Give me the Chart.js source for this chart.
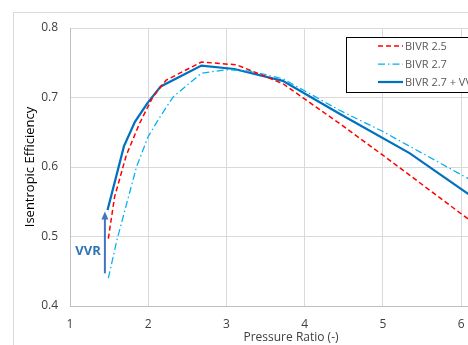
<!DOCTYPE html>
<html>
<head>
<meta charset="utf-8">
<script src="https://cdn.jsdelivr.net/npm/chart.js@4/dist/chart.umd.min.js"></script>
<style>
  html, body { margin: 0; padding: 0; background: #fff; overflow: hidden; width: 468px; height: 345px; }
  #wrap { width: 560px; height: 345px; }
</style>
</head>
<body>
<div id="wrap"><canvas id="effChart" width="560" height="345"></canvas></div>
<script>
// Series (pressure ratio, efficiency)
const seriesLabels = ['BIVR 2.5', 'BIVR 2.7', 'BIVR 2.7 + VVR'];

const bivr25X = [1.49, 1.57, 1.72, 1.89, 2.06, 2.23, 2.68, 3.13, 3.72, 4.44, 5.0, 6.08, 6.7];
const bivr25Y = [0.497, 0.557, 0.617, 0.663, 0.701, 0.725, 0.751, 0.747, 0.720, 0.663, 0.617, 0.526, 0.475];

const bivr27X = [1.49, 1.60, 1.85, 2.0, 2.15, 2.32, 2.68, 3.0, 3.3, 3.72, 4.44, 5.0, 6.08, 6.7];
const bivr27Y = [0.440, 0.495, 0.600, 0.644, 0.672, 0.701, 0.735, 0.740, 0.738, 0.727, 0.682, 0.651, 0.584, 0.545];

const vvrX = [1.48, 1.69, 1.83, 1.99, 2.16, 2.68, 3.10, 3.72, 4.44, 5.34, 6.08, 6.7];
const vvrY = [0.538, 0.630, 0.665, 0.692, 0.716, 0.746, 0.741, 0.724, 0.677, 0.620, 0.562, 0.515];

const xTicks = [1, 2, 3, 4, 5, 6];
const yTicks = [0.4, 0.5, 0.6, 0.7, 0.8];

// VVR arrow (from / to) and its label
const arrowX = [1.446, 1.446];
const arrowY = [0.447, 0.536];
const vvrLabel = { text: 'VVR', x: 1.23, y: 0.479 };

const colors = {
    red: '#ff0000',
    cyan: '#00b0f0',
    blue: '#0070c0',
    arrow: '#4472c4',
    grid: '#d9d9d9',
    text: '#404040'
};

function toPoints(xs, ys) {
    return xs.map((x, i) => ({ x: x, y: ys[i] }));
}

// outer frame and the legend box, like the spreadsheet chart
const framePlugin = {
    id: 'frame',
    beforeDraw(chart) {
        const ctx = chart.ctx;
        ctx.save();
        ctx.fillStyle = '#fff';
        ctx.fillRect(0, 0, chart.width, chart.height);
        ctx.strokeStyle = colors.grid;
        ctx.lineWidth = 1;
        ctx.strokeRect(13.5, 12.5, chart.width, chart.height);
        ctx.restore();
    },
    afterDraw(chart) {
        const ctx = chart.ctx;
        const xs = chart.scales.x, ys = chart.scales.y;
        ctx.save();

        // arrow
        const ax = xs.getPixelForValue(arrowX[0]);
        const y0 = ys.getPixelForValue(arrowY[0]);
        const y1 = ys.getPixelForValue(arrowY[1]);
        ctx.strokeStyle = colors.arrow;
        ctx.fillStyle = colors.arrow;
        ctx.lineWidth = 2;
        ctx.beginPath();
        ctx.moveTo(ax, y0);
        ctx.lineTo(ax, y1 + 6);
        ctx.stroke();
        ctx.beginPath();
        ctx.moveTo(ax, y1);
        ctx.lineTo(ax - 3.5, y1 + 8);
        ctx.lineTo(ax + 3.5, y1 + 8);
        ctx.closePath();
        ctx.fill();

        ctx.font = 'bold 13px "Open Sans", sans-serif';
        ctx.fillStyle = '#2e75b6';
        ctx.textAlign = 'center';
        ctx.textBaseline = 'middle';
        ctx.fillText(vvrLabel.text, xs.getPixelForValue(vvrLabel.x), ys.getPixelForValue(vvrLabel.y));

        // legend
        const lx = 346, ly = 37;
        ctx.fillStyle = '#fff';
        ctx.fillRect(lx, ly, 200, 55);
        ctx.strokeStyle = '#000';
        ctx.lineWidth = 1;
        ctx.strokeRect(lx + 0.5, ly + 0.5, 200, 55);
        ctx.font = '11px "Open Sans", sans-serif';
        ctx.textAlign = 'left';
        chart.data.datasets.forEach((ds, i) => {
            const rowY = 46 + i * 18;
            ctx.strokeStyle = ds.borderColor;
            ctx.lineWidth = ds.borderWidth;
            ctx.setLineDash(ds.borderDash || []);
            ctx.beginPath();
            ctx.moveTo(378, rowY);
            ctx.lineTo(403, rowY);
            ctx.stroke();
            ctx.setLineDash([]);
            ctx.fillStyle = '#595959';
            ctx.fillText(ds.label, 405, rowY + 0.5);
        });
        ctx.restore();
    }
};

function initEfficiencyChart() {
    new Chart(document.getElementById('effChart'), {
        type: 'scatter',
        data: {
            datasets: [
                {
                    label: seriesLabels[0],
                    data: toPoints(bivr25X, bivr25Y),
                    borderColor: colors.red,
                    borderWidth: 1.5,
                    borderDash: [5, 3],
                    showLine: true,
                    pointRadius: 0
                },
                {
                    label: seriesLabels[1],
                    data: toPoints(bivr27X, bivr27Y),
                    borderColor: colors.cyan,
                    borderWidth: 1.25,
                    borderDash: [7, 3, 1.5, 3],
                    showLine: true,
                    pointRadius: 0
                },
                {
                    label: seriesLabels[2],
                    data: toPoints(vvrX, vvrY),
                    borderColor: colors.blue,
                    borderWidth: 2.25,
                    showLine: true,
                    pointRadius: 0
                }
            ]
        },
        options: {
            responsive: false,
            animation: false,
            layout: { padding: { left: 22, top: 28, right: 48, bottom: 0 } },
            plugins: {
                legend: { display: false },
                tooltip: { enabled: false }
            },
            scales: {
                x: {
                    type: 'linear',
                    min: 1,
                    max: 6.65,
                    afterBuildTicks: s => { s.ticks = xTicks.map(v => ({ value: v })); },
                    afterFit: s => { s.height = 39; },
                    grid: { color: colors.grid, drawTicks: false },
                    border: { color: '#bfbfbf' },
                    ticks: {
                        padding: 11,
                        color: colors.text,
                        font: { family: 'Open Sans', size: 12 }
                    },
                    title: {
                        display: true,
                        text: 'Pressure Ratio (-)',
                        color: colors.text,
                        padding: 0,
                        font: { family: 'Open Sans', size: 12 }
                    }
                },
                y: {
                    min: 0.4,
                    max: 0.8,
                    afterBuildTicks: s => { s.ticks = yTicks.map(v => ({ value: v })); },
                    afterFit: s => { s.width = 48; },
                    grid: { color: colors.grid, drawTicks: false },
                    border: { color: '#bfbfbf' },
                    ticks: {
                        padding: 12,
                        color: colors.text,
                        font: { family: 'Open Sans', size: 12 },
                        callback: v => v.toFixed(1)
                    },
                    title: {
                        display: true,
                        text: 'Isentropic Efficiency',
                        color: '#000',
                        padding: 0,
                        font: { family: 'Open Sans', size: 13 }
                    }
                }
            }
        },
        plugins: [framePlugin]
    });
}

document.addEventListener('DOMContentLoaded', initEfficiencyChart);
</script>
</body>
</html>
